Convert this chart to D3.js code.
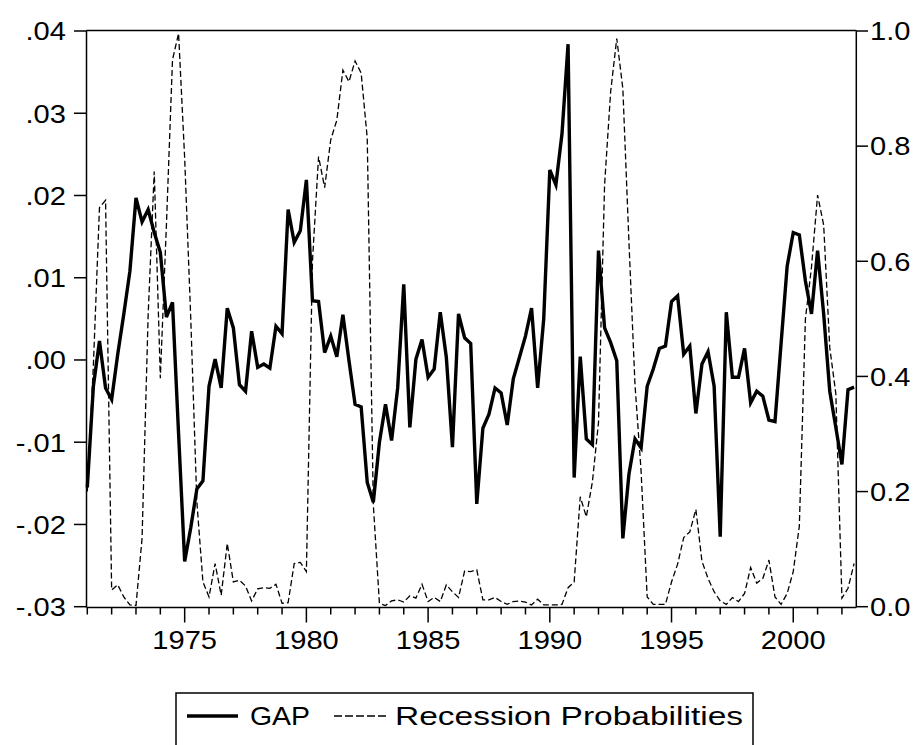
<!DOCTYPE html>
<html><head><meta charset="utf-8">
<script src="https://cdn.jsdelivr.net/npm/d3@7"></script>
<style>
html,body{margin:0;padding:0;background:#fff;}
svg{display:block;}
text{font-family:"Liberation Sans",Arial,sans-serif;fill:#000;}
</style></head>
<body>
<svg id="chart" width="924" height="745"></svg>
<script>
const startYear = 1971; // first quarter 1971Q1, quarterly data
const gap = [-0.0155,-0.0032,0.0023,-0.0034,-0.0048,0.0007,0.0056,0.0108,0.0197,0.0168,
0.0183,0.0155,0.0131,0.0052,0.0070,-0.0090,-0.0245,-0.0204,-0.0157,-0.0147,
-0.0032,0.0001,-0.0034,0.0063,0.0039,-0.0030,-0.0038,0.0035,-0.0009,-0.0005,
-0.0010,0.0041,0.0032,0.0183,0.0143,0.0157,0.0219,0.0072,0.0071,0.0009,
0.0029,0.0004,0.0055,-0.0001,-0.0054,-0.0057,-0.0149,-0.0173,-0.0100,-0.0054,
-0.0098,-0.0034,0.0092,-0.0082,0.0001,0.0025,-0.0021,-0.0011,0.0058,0.0003,
-0.0106,0.0056,0.0027,0.0020,-0.0175,-0.0083,-0.0066,-0.0034,-0.0040,-0.0079,
-0.0023,0.0003,0.0029,0.0063,-0.0034,0.0050,0.0231,0.0213,0.0275,0.0384,
-0.0143,0.0004,-0.0096,-0.0103,0.0133,0.0039,0.0021,-0.0001,-0.0217,-0.0139,
-0.0096,-0.0107,-0.0032,-0.0011,0.0014,0.0017,0.0071,0.0078,0.0007,0.0017,
-0.0065,-0.0005,0.0010,-0.0032,-0.0215,0.0058,-0.0021,-0.0021,0.0014,-0.0052,
-0.0038,-0.0044,-0.0073,-0.0075,0.0020,0.0114,0.0155,0.0152,0.0096,0.0056,
0.0133,0.0056,-0.0038,-0.0082,-0.0127,-0.0036,-0.0033];
const recessionProb = [0.20,0.42,0.693,0.706,0.029,0.038,0.017,0.003,0.002,0.119,
0.507,0.756,0.397,0.663,0.950,0.996,0.779,0.501,0.182,0.043,
0.017,0.075,0.020,0.110,0.043,0.046,0.036,0.010,0.031,0.033,
0.032,0.039,0.006,0.007,0.075,0.077,0.061,0.60,0.782,0.728,
0.811,0.845,0.932,0.912,0.948,0.927,0.814,0.177,0.006,0.002,
0.010,0.012,0.008,0.019,0.015,0.039,0.009,0.016,0.009,0.038,
0.026,0.016,0.062,0.061,0.064,0.012,0.012,0.016,0.009,0.004,
0.009,0.010,0.008,0.003,0.013,0.003,0.003,0.003,0.004,0.033,
0.043,0.191,0.156,0.217,0.32,0.733,0.895,0.987,0.900,0.634,
0.385,0.235,0.017,0.004,0.004,0.004,0.043,0.074,0.120,0.130,
0.169,0.079,0.049,0.026,0.010,0.004,0.016,0.009,0.023,0.068,
0.041,0.049,0.081,0.017,0.004,0.023,0.061,0.14,0.50,0.59,
0.715,0.663,0.45,0.37,0.015,0.032,0.075];
const leftTicks = [-0.03,-0.02,-0.01,0.00,0.01,0.02,0.03,0.04];
const leftTickLabels = ["-.03","-.02","-.01",".00",".01",".02",".03",".04"];
const rightTicks = [0.0,0.2,0.4,0.6,0.8,1.0];
const rightTickLabels = ["0.0","0.2","0.4","0.6","0.8","1.0"];
const yearTicks = d3.range(1971, 2003);
const yearLabels = [1975,1980,1985,1990,1995,2000];
const legendLabels = ["GAP","Recession Probabilities"];

const svg = d3.select("#chart");
const SX = 1.12, FS = 26;
const L = 86.5, R = 856.3, T = 30.5, B = 607.5;
const x = d3.scaleLinear().domain([1971, 2002.5]).range([87.3, 854.1]);
const yL = d3.scaleLinear().domain([-0.03, 0.04]).range([606.7, 31]);
const yR = d3.scaleLinear().domain([0, 1]).range([606.7, 31]);
const t = i => startYear + i/4;

function txt(g, px, py, s, anchor, len){
  const e = g.append("text").attr("transform",`translate(${px},${py}) scale(${len?1:SX},1)`)
   .attr("text-anchor",anchor).attr("font-size",FS).text(s);
  if(len) e.attr("textLength",len).attr("lengthAdjust","spacingAndGlyphs");
  return e;
}

// series
svg.append("path").datum(recessionProb)
  .attr("d", d3.line().x((d,i)=>x(t(i))).y(d=>yR(d)))
  .attr("fill","none").attr("stroke","#000").attr("stroke-width",1.3)
  .attr("stroke-dasharray","6,3");
svg.append("path").datum(gap)
  .attr("d", d3.line().x((d,i)=>x(t(i))).y(d=>yL(d)))
  .attr("fill","none").attr("stroke","#000").attr("stroke-width",3.4)
  .attr("stroke-linejoin","miter");

// frame
const fr = svg.append("g").attr("stroke","#000").attr("stroke-width",1.5).attr("fill","none");
fr.append("line").attr("x1",L).attr("x2",R).attr("y1",T).attr("y2",T);
fr.append("line").attr("x1",L).attr("x2",L).attr("y1",T).attr("y2",B);
fr.append("line").attr("x1",R).attr("x2",R).attr("y1",T).attr("y2",B);
fr.append("line").attr("x1",L).attr("x2",R).attr("y1",B).attr("y2",B);

// left axis
const ga = svg.append("g");
leftTicks.forEach((v,k)=>{
  ga.append("line").attr("x1",74).attr("x2",L).attr("y1",yL(v)).attr("y2",yL(v)).attr("stroke","#000").attr("stroke-width",1.5);
  txt(ga, 66, yL(v)+9.3, leftTickLabels[k], "end");
});
// right axis
rightTicks.forEach((v,k)=>{
  ga.append("line").attr("x1",R).attr("x2",868).attr("y1",yR(v)).attr("y2",yR(v)).attr("stroke","#000").attr("stroke-width",1.5);
  txt(ga, 870, yR(v)+9.3, rightTickLabels[k], "start");
});
// bottom axis
yearTicks.forEach(yr=>{
  const major = yearLabels.includes(yr);
  ga.append("line").attr("x1",x(yr)).attr("x2",x(yr)).attr("y1",B).attr("y2",B+(major?15:7)).attr("stroke","#000").attr("stroke-width",1.5);
});
yearLabels.forEach(yr=> txt(ga, x(yr), 649, String(yr), "middle"));

// legend
const lg = svg.append("g");
lg.append("path").attr("d","M176,746 V693 H753 V746").attr("fill","none").attr("stroke","#000").attr("stroke-width",1.5);
lg.append("line").attr("x1",187).attr("x2",238).attr("y1",716).attr("y2",716).attr("stroke","#000").attr("stroke-width",3.4);
txt(lg, 250, 725, legendLabels[0], "start", 60);
lg.append("line").attr("x1",334).attr("x2",388).attr("y1",716).attr("y2",716).attr("stroke","#000").attr("stroke-width",1.3).attr("stroke-dasharray","8,3");
txt(lg, 395, 725, legendLabels[1], "start", 348);
</script>
</body></html>
